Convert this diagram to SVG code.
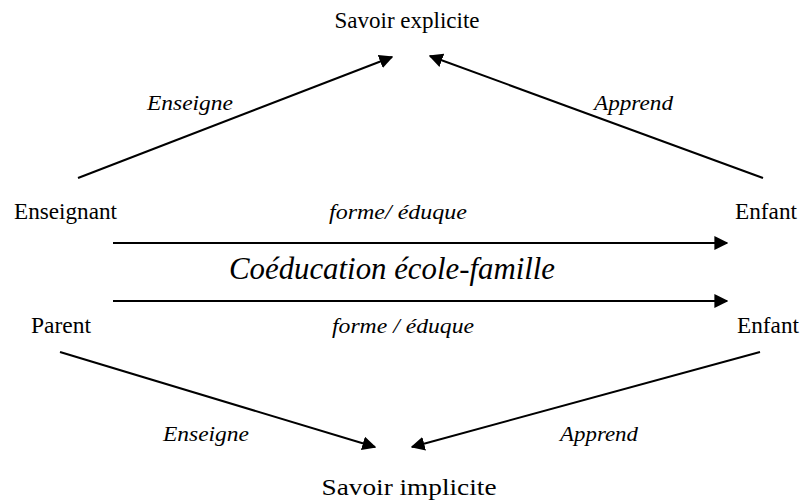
<svg xmlns="http://www.w3.org/2000/svg" width="800" height="503" viewBox="0 0 800 503">
<style>
text{fill:#000}
.n{font-size:23px}
.l{font-size:21px;font-style:italic}
.t{font-size:31px;font-style:italic}
.c{stroke:#000;stroke-width:2;fill:none}
</style>
<defs>
<marker id="ah" viewBox="0 0 10 10" refX="9" refY="5" markerWidth="7" markerHeight="7" markerUnits="strokeWidth" orient="auto">
<path d="M0,0 L10,5 L0,10 z" fill="#000"/>
</marker>
</defs>
<rect width="800" height="503" fill="#fff"/>
<g font-family="Liberation Serif, serif">
<g id="savoir-explicite"><text class="n" x="407" y="28" text-anchor="middle" textLength="145" lengthAdjust="spacingAndGlyphs">Savoir explicite</text></g>
<g id="enseignant"><text class="n" x="14" y="219" textLength="103" lengthAdjust="spacingAndGlyphs">Enseignant</text></g>
<g id="enfant-1"><text class="n" x="735" y="219" textLength="62" lengthAdjust="spacingAndGlyphs">Enfant</text></g>
<g id="parent"><text class="n" x="31" y="333" textLength="60" lengthAdjust="spacingAndGlyphs">Parent</text></g>
<g id="enfant-2"><text class="n" x="737" y="333" textLength="62" lengthAdjust="spacingAndGlyphs">Enfant</text></g>
<g id="savoir-implicite"><text class="n" x="409" y="495" text-anchor="middle" textLength="175" lengthAdjust="spacingAndGlyphs">Savoir implicite</text></g>
<g id="title"><text class="t" x="392" y="279" text-anchor="middle" textLength="326" lengthAdjust="spacingAndGlyphs">Coéducation école-famille</text></g>
<g id="connectors">
<line class="c" x1="78" y1="178" x2="392" y2="57" marker-end="url(#ah)"/>
<line class="c" x1="763" y1="178" x2="430" y2="56" marker-end="url(#ah)"/>
<line class="c" x1="113" y1="243" x2="727" y2="243" marker-end="url(#ah)"/>
<line class="c" x1="113" y1="301" x2="727" y2="301" marker-end="url(#ah)"/>
<line class="c" x1="60" y1="352" x2="375" y2="447" marker-end="url(#ah)"/>
<line class="c" x1="760" y1="352" x2="412" y2="447" marker-end="url(#ah)"/>
<text class="l" x="147" y="110" textLength="86" lengthAdjust="spacingAndGlyphs">Enseigne</text>
<text class="l" x="594" y="110" textLength="79" lengthAdjust="spacingAndGlyphs">Apprend</text>
<text class="l" x="398" y="219" text-anchor="middle" textLength="138" lengthAdjust="spacingAndGlyphs">forme/ éduque</text>
<text class="l" x="403" y="333" text-anchor="middle" textLength="142" lengthAdjust="spacingAndGlyphs">forme / éduque</text>
<text class="l" x="163" y="441" textLength="86" lengthAdjust="spacingAndGlyphs">Enseigne</text>
<text class="l" x="560" y="441" textLength="78" lengthAdjust="spacingAndGlyphs">Apprend</text>
</g>
</g>
</svg>
